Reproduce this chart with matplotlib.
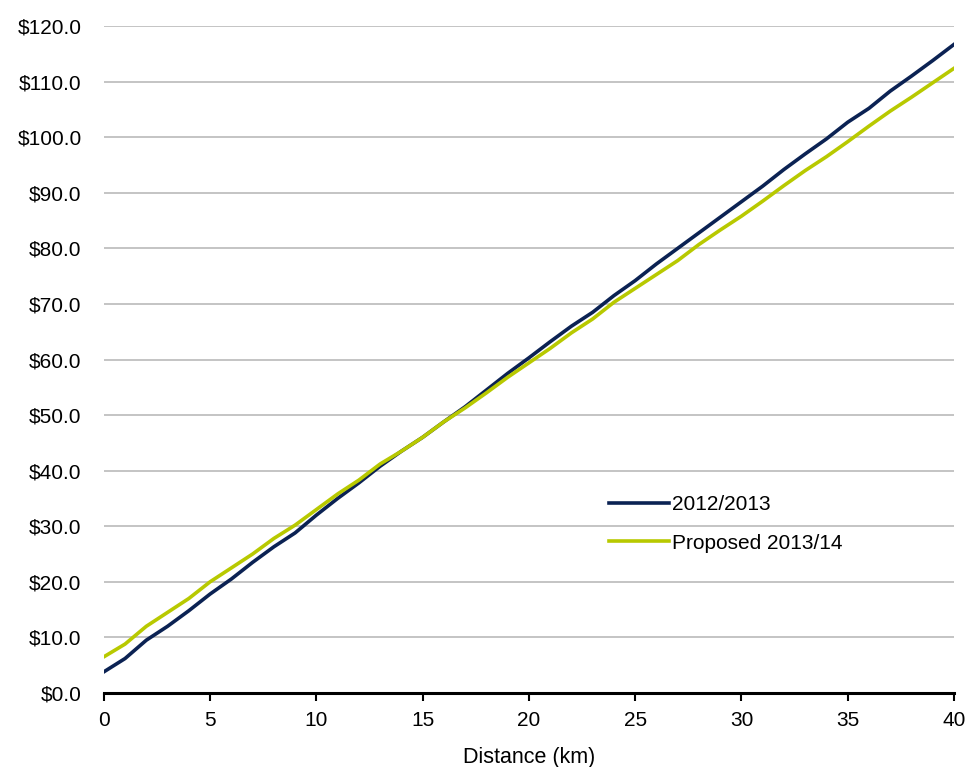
import numpy as np
import matplotlib.pyplot as plt
from matplotlib.ticker import FuncFormatter, MultipleLocator

plt.rcParams['font.family'] = ['Liberation Sans', 'DejaVu Sans']

# fare by distance, one value per km
distance_km = list(range(0, 41))
fare_2012 = [3.8, 6.2, 9.5, 12.0, 14.8, 17.8, 20.5, 23.5, 26.3, 28.8,
             32.0, 35.0, 37.8, 40.8, 43.5, 46.0, 48.8, 51.5, 54.5, 57.5,
             60.3, 63.2, 66.0, 68.5, 71.5, 74.2, 77.2, 80.0, 82.8, 85.6,
             88.4, 91.2, 94.2, 97.0, 99.7, 102.7, 105.2, 108.3, 111.0, 113.8,
             116.7]
fare_2013 = [6.5, 8.8, 12.0, 14.5, 17.0, 20.0, 22.5, 25.0, 27.8, 30.2,
             33.0, 35.8, 38.3, 41.2, 43.5, 46.0, 48.8, 51.3, 54.0, 56.8,
             59.4, 62.0, 64.8, 67.3, 70.3, 72.8, 75.3, 77.8, 80.7, 83.3,
             85.8, 88.5, 91.3, 94.0, 96.5, 99.2, 102.0, 104.7, 107.2, 109.8,
             112.4]
labels = ['2012/2013', 'Proposed 2013/14']

fig = plt.figure(figsize=(9.70, 7.67), dpi=100)
ax = fig.add_axes([0.107, 0.0965, 0.8765, 0.8695])

ax.plot(distance_km, fare_2012, color='#0B2253', lw=2.6, label=labels[0], zorder=3)
ax.plot(distance_km, fare_2013, color='#B8C900', lw=2.6, label=labels[1], zorder=3)

ax.set_xlim(0, 40)
ax.set_ylim(0, 120)
ax.xaxis.set_major_locator(MultipleLocator(5))
ax.yaxis.set_major_locator(MultipleLocator(10))
ax.yaxis.set_major_formatter(FuncFormatter(lambda v, p: f'${v:.1f}'))

ax.grid(axis='y', color='#BFBFBF', lw=1.3)
ax.set_axisbelow(True)
for side in ['top', 'right', 'left']:
    ax.spines[side].set_visible(False)
ax.spines['bottom'].set_linewidth(2.2)
ax.spines['bottom'].set_color('black')
ax.spines['bottom'].set_zorder(4)

ax.tick_params(axis='x', length=6, width=1.5, direction='out', labelsize=15, pad=7)
ax.tick_params(axis='y', length=0, labelsize=15, pad=16)
ax.set_xlabel('Distance (km)', fontsize=15.5, labelpad=12)

ax.legend(loc='upper left', bbox_to_anchor=(0.572, 0.325), frameon=False,
          fontsize=15, handlelength=2.9, handletextpad=0.15, labelspacing=0.95)

fig.savefig('out.png', dpi=100)
